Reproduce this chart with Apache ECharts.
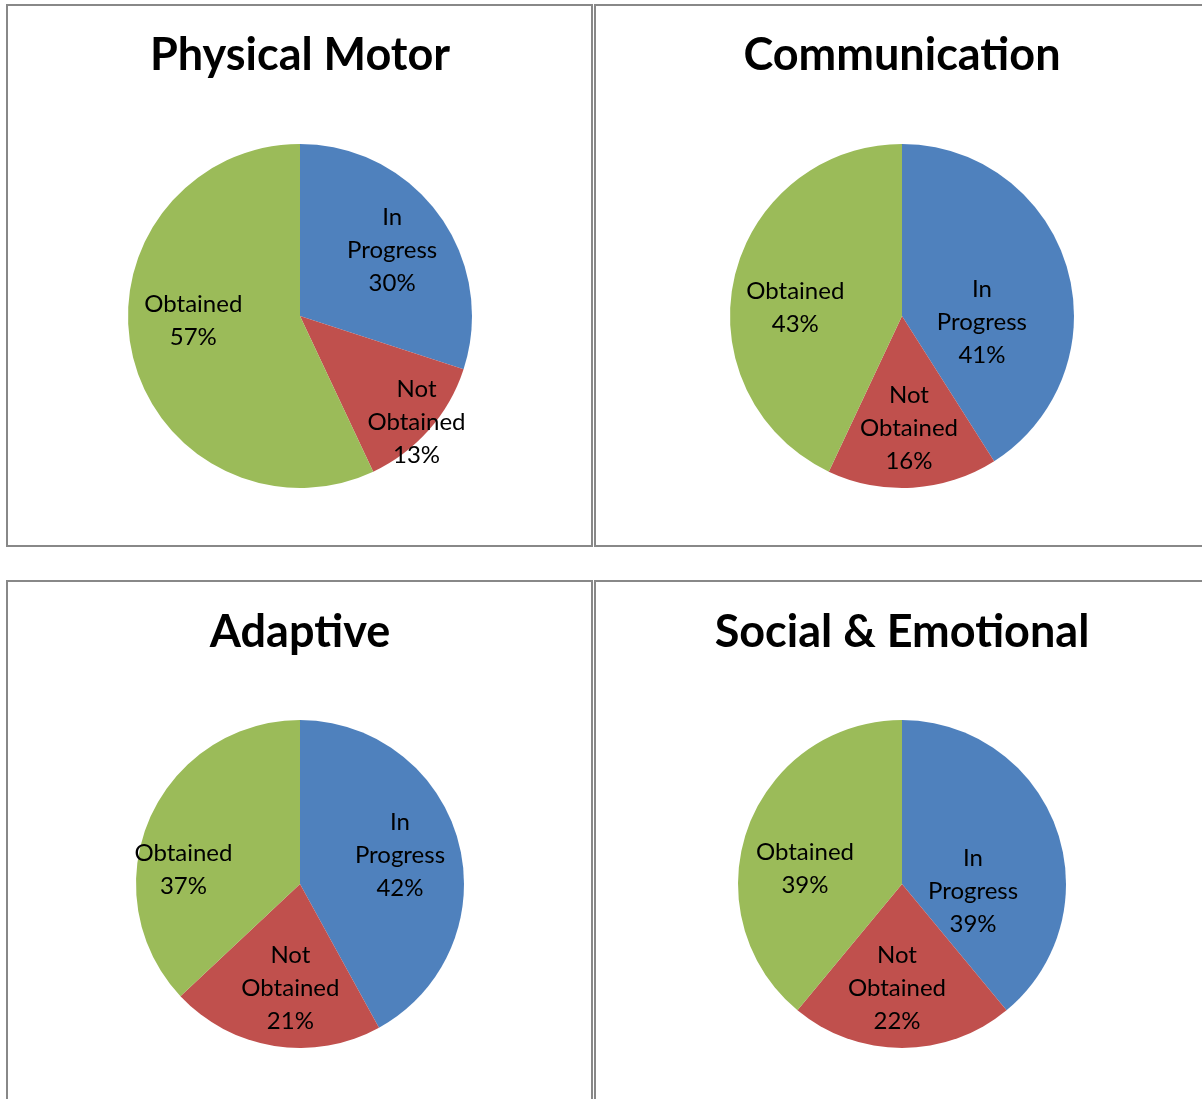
<!DOCTYPE html>
<html>
<head>
<meta charset="utf-8">
<script src="https://cdn.jsdelivr.net/npm/echarts@6/dist/echarts.min.js"></script>
<style>
  html, body { margin: 0; padding: 0; background: #fff; }
  #chart { width: 1202px; height: 1099px; }
</style>
</head>
<body>
<div id="chart"></div>
<script>
// data
const panelTitles = ['Physical Motor', 'Communication', 'Adaptive', 'Social & Emotional']
const categories = ['In Progress', 'Not Obtained', 'Obtained']
const inProgress = [30, 41, 42, 39]
const notObtained = [13, 16, 21, 22]
const obtained = [57, 43, 37, 39]

const colors = ['#4F81BD', '#C0504D', '#9BBB59']
const fontFamily = 'Lato, "Open Sans", sans-serif'

// panel layout (pixels)
const panels = [
  { cx: 300, cy: 316, r: 172, box: [7, 5, 585, 541], titleY: 55 },
  { cx: 902, cy: 316, r: 172, box: [595, 5, 640, 541], titleY: 55 },
  { cx: 300, cy: 884, r: 164, box: [7, 581, 585, 560], titleY: 632 },
  { cx: 902, cy: 884, r: 164, box: [595, 581, 640, 560], titleY: 632 }
]
// Excel's "best fit" moves some labels off the mid-angle; small nudges per label
const labelNudge = [
  [[2, 0], [33, 33], [2, -20]],
  [[-27, 37], [0, 1], [2, 16]],
  [[-3, -2], [7, -1], [-19, 28]],
  [[-29, 43], [-5, -2], [3, 21]]
]

const chart = echarts.init(document.getElementById('chart'))

function seriesData(i) {
  const vals = [inProgress[i], notObtained[i], obtained[i]]
  return categories.map((name, k) => ({
    name: name.indexOf(' ') > 0 ? name.replace(' ', '\n') : name,
    value: vals[k]
  }))
}

const series = []
panels.forEach((p, i) => {
  // coloured slices
  series.push({
    type: 'pie',
    center: [p.cx, p.cy],
    radius: [0, p.r],
    startAngle: 90,
    clockwise: true,
    animation: false,
    silent: true,
    color: colors,
    itemStyle: { borderWidth: 0 },
    label: { show: false },
    labelLine: { show: false },
    data: seriesData(i)
  })
  // transparent ring used only to put the labels at ~0.63 of the radius
  series.push({
    type: 'pie',
    center: [p.cx, p.cy],
    radius: [p.r * 0.26, p.r],
    startAngle: 90,
    clockwise: true,
    animation: false,
    silent: true,
    itemStyle: { color: 'rgba(0,0,0,0)', borderWidth: 0 },
    label: {
      show: true,
      position: 'inside',
      formatter: '{b}\n{d}%',
      color: '#000',
      fontFamily: fontFamily,
      fontSize: 24,
      lineHeight: 33,
      align: 'center'
    },
    labelLine: { show: false },
    labelLayout: params => {
      const n = labelNudge[i][params.dataIndex]
      return { dx: n[0], dy: n[1] }
    },
    data: seriesData(i)
  })
})

const graphics = []
panels.forEach((p, i) => {
  graphics.push({
    type: 'rect',
    shape: { x: p.box[0], y: p.box[1], width: p.box[2], height: p.box[3] },
    style: { fill: null, stroke: '#888', lineWidth: 2 },
    silent: true
  })
  graphics.push({
    type: 'text',
    x: p.cx,
    y: p.titleY,
    style: {
      text: panelTitles[i],
      fill: '#000',
      font: 'bold 45px ' + fontFamily,
      textAlign: 'center',
      textVerticalAlign: 'middle'
    },
    silent: true
  })
})

chart.setOption({
  backgroundColor: '#fff',
  animation: false,
  graphic: graphics,
  series: series
})
</script>
</body>
</html>
